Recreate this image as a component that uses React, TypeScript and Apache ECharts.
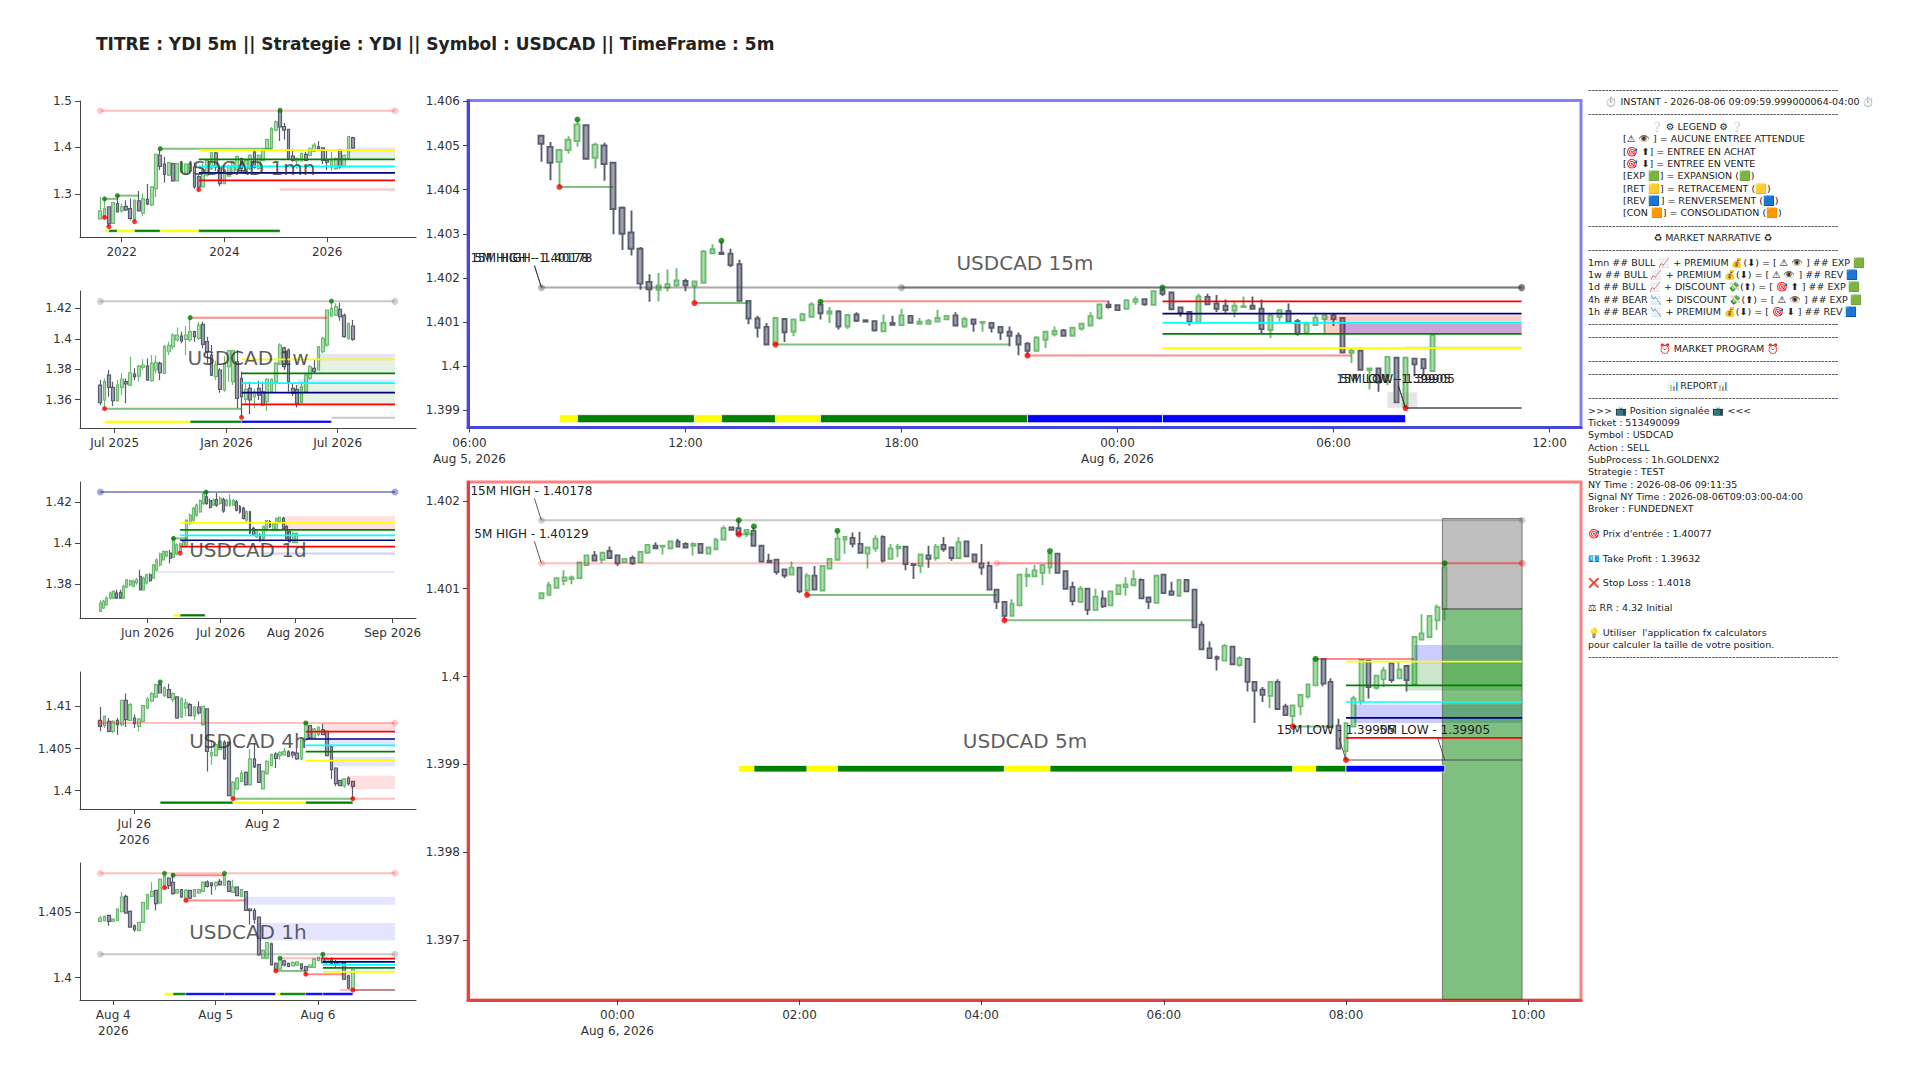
import React, { useEffect, useRef } from "react";
import * as echarts from "echarts";

const FONT = '"DejaVu Sans", "Noto Color Emoji", "Noto Sans", sans-serif';
const PIP = 100000;

const titleText = "TITRE : YDI 5m || Strategie : YDI || Symbol : USDCAD || TimeFrame : 5m";

// ---------- 15m candles [open, close, low, high], points ----------
const candles15m = [
[140522,140504,140463,140522],[140497,140461,140421,140508],[140463,140490,140406,140490],[140490,140513,140482,140521],[140510,140548,140498,140559],
[140546,140470,140470,140546],[140472,140502,140448,140506],[140500,140458,140420,140506],[140461,140356,140299,140463],[140359,140300,140263,140362],
[140303,140266,140251,140353],[140266,140187,140173,140270],[140191,140174,140146,140208],[140173,140183,140147,140211],[140178,140186,140169,140219],
[140183,140194,140180,140222],[140193,140183,140170,140198],[140182,140192,140143,140193],[140189,140260,140189,140263],[140256,140265,140256,140276],
[140257,140254,140252,140284],[140255,140229,140224,140266],[140231,140148,140146,140241],[140148,140108,140095,140149],[140108,140087,140065,140114],
[140089,140049,140047,140098],[140050,140109,140049,140110],[140107,140077,140055,140107],[140078,140106,140068,140107],[140104,140118,140104,140121],
[140112,140140,140111,140145],[140139,140120,140106,140146],[140119,140124,140098,140134],[140124,140090,140083,140127],[140090,140116,140084,140118],
[140117,140103,140100,140122],[140104,140101,140101,140104],[140102,140081,140078,140103],[140079,140098,140078,140117],[140098,140094,140093,140114],
[140093,140115,140092,140130],[140114,140098,140096,140115],[140096,140101,140096,140109],[140096,140103,140095,140107],[140101,140109,140100,140127],
[140106,140114,140106,140115],[140115,140092,140091,140122],[140090,140107,140087,140112],[140106,140096,140078,140106],[140098,140100,140078,140100],
[140098,140087,140076,140099],[140089,140076,140059,140090],[140078,140069,140045,140090],[140069,140049,140025,140076],[140051,140035,140024,140055],
[140035,140065,140035,140068],[140060,140078,140041,140079],[140072,140080,140067,140090],[140081,140069,140067,140084],[140069,140087,140067,140088],
[140085,140096,140080,140097],[140092,140113,140090,140122],[140109,140140,140105,140141],[140139,140134,140130,140148],[140138,140127,140125,140140],
[140130,140149,140128,140152],[140146,140152,140139,140158],[140152,140140,140137,140153],[140139,140170,140139,140172],[140172,140164,140159,140178],
[140167,140129,140127,140168],[140133,140121,140112,140133],[140123,140100,140092,140125],[140099,140158,140099,140164],[140157,140140,140139,140164],
[140142,140130,140123,140161],[140137,140127,140121,140151],[140126,140137,140110,140145],[140134,140136,140132,140158],[140137,140130,140129,140158],
[140130,140084,140074,140151],[140082,140115,140064,140118],[140112,140127,140101,140128],[140125,140100,140100,140142],[140102,140074,140069,140107],
[140075,140096,140075,140101],[140093,140110,140092,140119],[140107,140115,140074,140118],[140115,140107,140091,140118],[140109,140031,140030,140111],
[140030,140035,140007,140040],[140035,139992,139991,140035],[139991,139995,139947,139997],[139995,139963,139942,139997],[139977,140021,139957,140022],
[140019,139918,139917,140021],[139911,140019,139905,140021],[140017,140004,139977,140019],[140016,139995,139977,140017],[139989,140070,139989,140071],
];

// ---------- 5m candles ----------
const candles5m = [
[140089,140095,140088,140095],[140093,140104,140092,140108],[140101,140112,140100,140113],[140109,140113,140104,140121],[140111,140113,140105,140115],
[140112,140130,140112,140131],[140127,140138,140127,140139],[140138,140132,140132,140143],[140133,140141,140129,140142],[140143,140135,140134,140148],
[140138,140129,140126,140139],[140130,140134,140130,140135],[140135,140129,140127,140138],[140130,140142,140130,140143],[140141,140150,140140,140151],
[140149,140146,140146,140153],[140148,140149,140139,140149],[140146,140154,140146,140155],[140154,140148,140147,140157],[140151,140147,140146,140153],
[140149,140151,140138,140153],[140151,140141,140140,140152],[140140,140147,140140,140148],[140145,140156,140145,140158],[140156,140169,140155,140172],
[140170,140167,140167,140170],[140169,140162,140162,140178],[140164,140167,140159,140167],[140166,140149,140148,140171],[140149,140131,140130,140149],
[140132,140130,140129,140140],[140133,140119,140116,140134],[140122,140115,140112,140123],[140116,140124,140116,140131],[140124,140097,140095,140124],
[140098,140115,140093,140118],[140115,140099,140099,140126],[140098,140126,140098,140126],[140123,140134,140123,140135],[140133,140157,140133,140166],
[140156,140159,140140,140160],[140158,140151,140147,140164],[140151,140141,140140,140165],[140140,140147,140123,140148],[140146,140157,140142,140161],
[140159,140132,140130,140161],[140134,140146,140134,140151],[140146,140148,140136,140151],[140148,140128,140121,140149],[140128,140127,140111,140129],
[140126,140139,140118,140140],[140138,140134,140124,140149],[140135,140148,140132,140151],[140150,140145,140142,140159],[140147,140135,140132,140148],
[140135,140153,140134,140159],[140154,140137,140137,140154],[140139,140131,140130,140140],[140129,140124,140116,140151],[140126,140099,140098,140131],
[140099,140085,140077,140099],[140085,140069,140064,140086],[140069,140083,140069,140088],[140081,140116,140081,140116],[140114,140116,140102,140124],
[140114,140121,140113,140127],[140118,140127,140104,140128],[140124,140140,140117,140143],[140140,140118,140117,140140],[140120,140100,140099,140121],
[140102,140086,140081,140108],[140085,140100,140084,140103],[140100,140076,140070,140100],[140076,140091,140075,140100],[140089,140080,140078,140098],
[140081,140097,140080,140097],[140094,140104,140094,140105],[140102,140105,140092,140113],[140104,140111,140103,140121],[140110,140089,140088,140112],
[140090,140085,140077,140091],[140084,140115,140083,140115],[140116,140095,140094,140116],[140097,140093,140092,140108],[140092,140110,140091,140111],
[140110,140097,140097,140111],[140099,140056,140055,140099],[140059,140031,140030,140063],[140032,140021,140020,140040],[140022,140020,140007,140024],
[140018,140035,140018,140037],[140034,140014,140013,140034],[140013,140021,140011,140023],[140020,139994,139983,140021],[139994,139984,139947,139994],
[139985,139979,139971,139988],[139978,139994,139964,139995],[139994,139963,139962,139997],[139966,139956,139955,139969],[139955,139967,139943,139968],
[139966,139979,139956,139979],[139977,139991,139975,139991],[139990,140020,139990,140020],[140020,139992,139989,140021],[139994,139942,139941,139998],
[139944,139918,139917,139952],[139915,139947,139905,139947],[139943,139975,139942,139978],[139972,140019,139968,140020],[140018,139988,139975,140019],
[139987,140001,139985,140001],[139997,140007,139988,140011],[140015,139996,139993,140016],[139998,140008,139997,140017],[140012,139996,139983,140013],
[139991,140045,139990,140046],[140042,140049,140041,140071],[140045,140069,140044,140069],[140064,140079,140053,140082],[140077,140124,140064,140129],
];

// ---------- higher time frames, prices ----------
const candles1mn = [
[1.246,1.263,1.246,1.293],[1.249,1.268,1.249,1.289],[1.272,1.235,1.229,1.273],[1.236,1.281,1.235,1.282],[1.279,1.261,1.260,1.296],
[1.263,1.272,1.259,1.279],[1.273,1.265,1.263,1.286],[1.268,1.247,1.243,1.290],[1.245,1.286,1.240,1.288],[1.285,1.263,1.263,1.306],
[1.258,1.289,1.252,1.301],[1.288,1.278,1.276,1.321],[1.276,1.315,1.273,1.315],[1.311,1.385,1.293,1.385],[1.383,1.359,1.351,1.397],
[1.364,1.342,1.324,1.380],[1.340,1.367,1.338,1.369],[1.365,1.328,1.326,1.367],[1.328,1.365,1.326,1.367],[1.347,1.367,1.345,1.369],
[1.344,1.364,1.340,1.365],[1.349,1.365,1.345,1.367],[1.358,1.315,1.311,1.367],[1.337,1.315,1.309,1.340],[1.315,1.351,1.314,1.365],
[1.340,1.372,1.337,1.374],[1.354,1.388,1.352,1.390],[1.388,1.358,1.349,1.390],[1.358,1.322,1.316,1.359],[1.322,1.351,1.321,1.352],
[1.338,1.359,1.337,1.362],[1.344,1.369,1.342,1.371],[1.351,1.380,1.349,1.383],[1.376,1.354,1.347,1.378],[1.344,1.372,1.342,1.374],
[1.354,1.383,1.352,1.385],[1.390,1.357,1.354,1.397],[1.354,1.383,1.352,1.385],[1.372,1.395,1.371,1.397],[1.394,1.417,1.392,1.419],
[1.397,1.440,1.395,1.444],[1.437,1.455,1.435,1.458],[1.478,1.444,1.414,1.480],[1.445,1.437,1.417,1.453],[1.439,1.376,1.374,1.440],
[1.381,1.372,1.369,1.397],[1.371,1.376,1.354,1.378],[1.371,1.387,1.369,1.388],[1.385,1.372,1.371,1.390],[1.383,1.397,1.381,1.400],
[1.392,1.405,1.390,1.410],[1.401,1.397,1.392,1.413],[1.399,1.372,1.364,1.401],[1.372,1.368,1.351,1.392],[1.358,1.372,1.349,1.390],
[1.354,1.376,1.352,1.378],[1.394,1.358,1.354,1.397],[1.359,1.383,1.357,1.385],[1.376,1.423,1.374,1.424],[1.421,1.399,1.397,1.423],
];
const candles1w = [
[1.3696,1.3580,1.3565,1.3729],[1.3598,1.3718,1.3543,1.3740],[1.3762,1.3681,1.3620,1.3795],[1.3681,1.3593,1.3558,1.3718],[1.3593,1.3696,1.3587,1.3729],
[1.3681,1.3736,1.3630,1.3773],[1.3718,1.3703,1.3576,1.3740],[1.3696,1.3777,1.3690,1.3882],[1.3768,1.3751,1.3729,1.3806],[1.3755,1.3821,1.3718,1.3828],
[1.3812,1.3828,1.3795,1.3865],[1.3821,1.3729,1.3725,1.3871],[1.3725,1.3839,1.3718,1.3893],[1.3795,1.3843,1.3773,1.3891],[1.3839,1.3777,1.3729,1.3849],
[1.3773,1.3948,1.3768,1.3959],[1.3915,1.3957,1.3893,1.3981],[1.3948,1.4025,1.3930,1.4036],[1.3992,1.4025,1.3981,1.4075],[1.4018,1.3987,1.3970,1.4047],
[1.3996,1.4025,1.3893,1.4084],[1.3992,1.4047,1.3981,1.4139],[1.4047,1.4014,1.3981,1.4053],[1.4003,1.4090,1.3992,1.4112],[1.4095,1.3963,1.3937,1.4112],
[1.3981,1.3915,1.3839,1.4014],[1.3893,1.3762,1.3755,1.3959],[1.3751,1.3828,1.3729,1.3856],[1.3795,1.3668,1.3646,1.3806],[1.3663,1.3839,1.3652,1.3887],
[1.3817,1.3922,1.3718,1.3926],[1.3718,1.3922,1.3696,1.3926],[1.3849,1.3609,1.3543,1.3926],[1.3740,1.3620,1.3484,1.3784],[1.3602,1.3668,1.3565,1.3718],
[1.3674,1.3598,1.3506,1.3718],[1.3620,1.3652,1.3543,1.3674],[1.3674,1.3630,1.3598,1.3725],[1.3652,1.3565,1.3558,1.3718],[1.3587,1.3733,1.3528,1.3740],
[1.3652,1.3733,1.3641,1.3740],[1.3718,1.3839,1.3652,1.3849],[1.3834,1.3959,1.3828,1.3970],[1.3941,1.3817,1.3795,1.3948],[1.3926,1.3718,1.3652,1.3937],
[1.3674,1.3641,1.3624,1.3711],[1.3668,1.3576,1.3549,1.3696],[1.3580,1.3685,1.3576,1.3718],[1.3652,1.3762,1.3641,1.3773],[1.3740,1.3817,1.3729,1.3828],
[1.3806,1.3784,1.3773,1.3860],[1.3795,1.3948,1.3790,1.3952],[1.3915,1.4003,1.3904,1.4014],[1.3959,1.4189,1.3948,1.4193],[1.4149,1.4200,1.4145,1.4248],
[1.4156,1.4211,1.4149,1.4233],[1.4193,1.4145,1.4119,1.4237],[1.4154,1.4014,1.4007,1.4167],[1.4003,1.4101,1.3992,1.4106],[1.4084,1.3996,1.3987,1.4123],
];
const candles1d = [
[1.3669,1.3710,1.3669,1.3723],[1.3686,1.3718,1.3681,1.3726],[1.3702,1.3734,1.3697,1.3742],[1.3734,1.3758,1.3726,1.3766],[1.3734,1.3766,1.3729,1.3771],
[1.3758,1.3734,1.3729,1.3774],[1.3761,1.3734,1.3729,1.3774],[1.3734,1.3790,1.3729,1.3799],[1.3787,1.3823,1.3781,1.3826],[1.3798,1.3819,1.3790,1.3823],
[1.3790,1.3815,1.3787,1.3823],[1.3807,1.3823,1.3799,1.3831],[1.3839,1.3774,1.3771,1.3871],[1.3774,1.3831,1.3771,1.3839],[1.3807,1.3847,1.3799,1.3852],
[1.3847,1.3819,1.3813,1.3855],[1.3831,1.3895,1.3826,1.3900],[1.3871,1.3919,1.3863,1.3928],[1.3895,1.3949,1.3887,1.3955],[1.3919,1.3960,1.3916,1.3965],
[1.3939,1.3960,1.3932,1.3965],[1.3952,1.3928,1.3903,1.3968],[1.3932,1.4024,1.3928,1.4028],[1.3948,1.3992,1.3942,1.4000],[1.3960,1.3997,1.3955,1.4003],
[1.3984,1.4008,1.3981,1.4016],[1.3992,1.4113,1.3987,1.4116],[1.4097,1.4137,1.4089,1.4145],[1.4113,1.4170,1.4105,1.4178],[1.4137,1.4186,1.4129,1.4194],
[1.4153,1.4207,1.4148,1.4213],[1.4194,1.4242,1.4186,1.4249],[1.4226,1.4194,1.4186,1.4249],[1.4207,1.4174,1.4168,1.4218],[1.4186,1.4210,1.4181,1.4218],
[1.4213,1.4186,1.4178,1.4245],[1.4194,1.4218,1.4187,1.4229],[1.4213,1.4158,1.4148,1.4223],[1.4186,1.4207,1.4178,1.4218],[1.4186,1.4210,1.4178,1.4239],
[1.4186,1.4207,1.4181,1.4215],[1.4202,1.4161,1.4155,1.4210],[1.4178,1.4153,1.4145,1.4186],[1.4170,1.4121,1.4116,1.4178],[1.4113,1.4153,1.4105,1.4161],
[1.4153,1.4049,1.4045,1.4158],[1.4073,1.4040,1.4036,1.4081],[1.4032,1.4065,1.4026,1.4071],[1.4040,1.4013,1.4007,1.4049],[1.4024,1.4081,1.4013,1.4087],
[1.4065,1.4110,1.4058,1.4113],[1.4105,1.4081,1.4074,1.4113],[1.4065,1.4097,1.4058,1.4105],[1.4065,1.4121,1.4058,1.4126],[1.4105,1.4126,1.4097,1.4129],
[1.4121,1.4073,1.4068,1.4129],[1.4081,1.4024,1.4019,1.4089],[1.4057,1.4008,1.4003,1.4065],[1.4003,1.4048,1.4000,1.4057],[1.4003,1.4048,1.4000,1.4053],
];
const candles4h = [
[1.40834,1.40763,1.40704,1.40992],[1.40771,1.40882,1.40743,1.40890],[1.40822,1.40704,1.40692,1.40862],[1.40704,1.40822,1.40684,1.40834],[1.40834,1.40783,1.40664,1.40862],
[1.40783,1.41071,1.40763,1.41079],[1.41071,1.40842,1.40755,1.41151],[1.40834,1.41020,1.40822,1.41040],[1.40862,1.40795,1.40743,1.40902],[1.40763,1.40850,1.40704,1.40862],
[1.40822,1.41008,1.40811,1.41020],[1.40981,1.41087,1.40969,1.41111],[1.41060,1.41151,1.41048,1.41166],[1.41111,1.41257,1.41099,1.41269],[1.41257,1.41158,1.41151,1.41289],
[1.41127,1.41218,1.41111,1.41238],[1.41198,1.41103,1.41095,1.41269],[1.41079,1.41151,1.41048,1.41166],[1.41111,1.40862,1.40850,1.41119],[1.40874,1.41087,1.40862,1.41111],
[1.40981,1.41040,1.40882,1.41087],[1.41020,1.40890,1.40882,1.41040],[1.40890,1.40992,1.40842,1.41008],[1.40992,1.40921,1.40902,1.41060],[1.40783,1.41000,1.40771,1.41008],
[1.40969,1.40467,1.40229,1.40977],[1.40415,1.40455,1.40309,1.40585],[1.40415,1.40546,1.40407,1.40573],[1.40486,1.40585,1.40479,1.40605],[1.40573,1.40376,1.40368,1.40597],
[1.40573,1.39941,1.39933,1.40581],[1.39913,1.40099,1.39905,1.40111],[1.40020,1.40150,1.40004,1.40162],[1.40111,1.40210,1.40099,1.40241],[1.40218,1.40071,1.40060,1.40229],
[1.40071,1.40376,1.40060,1.40494],[1.40376,1.40281,1.40269,1.40566],[1.40309,1.40099,1.40091,1.40320],[1.40020,1.40229,1.40012,1.40241],[1.40202,1.40348,1.40190,1.40360],
[1.40297,1.40427,1.40289,1.40439],[1.40435,1.40384,1.40269,1.40455],[1.40415,1.40455,1.40368,1.40467],[1.40427,1.40467,1.40415,1.40506],[1.40459,1.40407,1.40400,1.40479],
[1.40455,1.40423,1.40388,1.40471],[1.40447,1.40376,1.40368,1.40506],[1.40376,1.40613,1.40360,1.40621],[1.40605,1.40803,1.40585,1.40803],[1.40771,1.40625,1.40613,1.40783],
[1.40625,1.40732,1.40613,1.40743],[1.40664,1.40755,1.40645,1.40763],[1.40724,1.40664,1.40657,1.40795],[1.40704,1.40415,1.40407,1.40712],[1.40526,1.40249,1.40139,1.40546],
[1.40269,1.40083,1.40052,1.40277],[1.40123,1.40060,1.40052,1.40131],[1.40060,1.40139,1.40032,1.40150],[1.40150,1.40083,1.40060,1.40170],[1.40111,1.40052,1.39905,1.40119],
];
const candles1h = [
[1.40431,1.40456,1.40423,1.40474],[1.40436,1.40469,1.40428,1.40477],[1.40477,1.40431,1.40397,1.40477],[1.40431,1.40449,1.40428,1.40456],[1.40438,1.40526,1.40436,1.40531],
[1.40505,1.40618,1.40500,1.40654],[1.40623,1.40495,1.40490,1.40636],[1.40508,1.40387,1.40382,1.40515],[1.40397,1.40367,1.40351,1.40408],[1.40361,1.40423,1.40356,1.40428],
[1.40423,1.40577,1.40418,1.40582],[1.40526,1.40636,1.40520,1.40644],[1.40623,1.40662,1.40618,1.40731],[1.40669,1.40567,1.40515,1.40674],[1.40572,1.40756,1.40567,1.40761],
[1.40705,1.40777,1.40687,1.40800],[1.40764,1.40705,1.40679,1.40769],[1.40731,1.40644,1.40636,1.40797],[1.40649,1.40674,1.40641,1.40679],[1.40674,1.40618,1.40610,1.40679],
[1.40610,1.40669,1.40592,1.40679],[1.40669,1.40610,1.40603,1.40674],[1.40623,1.40674,1.40618,1.40682],[1.40649,1.40674,1.40641,1.40682],[1.40662,1.40733,1.40656,1.40738],
[1.40733,1.40700,1.40692,1.40746],[1.40726,1.40705,1.40636,1.40731],[1.40705,1.40733,1.40669,1.40738],[1.40738,1.40713,1.40705,1.40756],[1.40710,1.40782,1.40705,1.40797],
[1.40738,1.40662,1.40656,1.40746],[1.40654,1.40695,1.40649,1.40751],[1.40695,1.40628,1.40623,1.40700],[1.40623,1.40674,1.40618,1.40679],[1.40659,1.40515,1.40513,1.40662],
[1.40526,1.40513,1.40405,1.40531],[1.40515,1.40449,1.40413,1.40531],[1.40464,1.40174,1.40167,1.40469],[1.40149,1.40208,1.40141,1.40218],[1.40149,1.40269,1.40141,1.40277],
[1.40259,1.40097,1.40092,1.40269],[1.40110,1.40064,1.40051,1.40115],[1.40064,1.40141,1.40059,1.40149],[1.40128,1.40097,1.40085,1.40136],[1.40110,1.40085,1.40079,1.40115],
[1.40090,1.40115,1.40085,1.40126],[1.40095,1.40120,1.40090,1.40126],[1.40105,1.40069,1.40059,1.40110],[1.40085,1.40054,1.40026,1.40090],[1.40079,1.40095,1.40072,1.40100],
[1.40079,1.40141,1.40072,1.40149],[1.40131,1.40156,1.40123,1.40161],[1.40149,1.40115,1.40110,1.40179],[1.40115,1.40141,1.40097,1.40156],[1.40136,1.40110,1.40105,1.40156],
[1.40123,1.40097,1.40069,1.40136],[1.40097,1.40118,1.40085,1.40123],[1.40115,1.39987,1.39982,1.40123],[1.40013,1.39918,1.39910,1.40021],[1.39905,1.40064,1.39905,1.40069],
];

// ---------- levels: [from bar, to bar, price, kind] ----------
const levels15m = [
[2,8,1.40406,"mint"],[17,23,1.40143,"mint"],[26,52,1.40049,"mint"],[31,63,1.40147,"salmon"],[54,90,1.40024,"salmon"],
[0,108.9,1.40178,"grey"],[40,108.9,1.40178,"grey"],[96,108.9,1.39905,"grey"],[96,108.9,1.39905,"grey"],
[69,108.9,1.40147,"red"],[69,108.9,1.40119,"navy"],[69,108.9,1.40098,"cyan"],[69,108.9,1.40073,"green"],[69,108.9,1.40041,"yellow"],
];
const levels5m = [
[0,129.2,1.40178,"silver"],[0,129.2,1.40129,"pink"],[60,129.2,1.40129,"pink"],
[26,28,1.40162,"mint"],[35,60,1.40093,"mint"],[61,86,1.40064,"mint"],[99,104,1.39943,"mint"],[102,115,1.4002,"salmon"],
[106,129.2,1.40017,"yellow"],[106,129.2,1.3999,"green"],[106,129.2,1.39971,"cyan"],[106,129.2,1.39953,"navy"],[106,129.2,1.3993,"red"],
[106,129.2,1.39905,"grey"],
];
const levels1mn = [
[0,68.85,1.479,"pink"],[1,4,1.289,"mint"],[4,9,1.296,"mint"],[14,40,1.397,"mint"],[42,68.85,1.309,"pink"],
[23,68.85,1.394,"yellow"],[23,68.85,1.374,"green"],[23,68.85,1.359,"cyan"],[23,68.85,1.345,"navy"],[23,68.85,1.329,"red"],
];
const levels1w = [
[0,68.85,1.4246,"silver"],[21,53,1.4139,"salmon"],[1,33,1.3541,"mint"],[54,68.85,1.3482,"silver"],
[33,68.85,1.3865,"yellow"],[33,68.85,1.3773,"green"],[33,68.85,1.3709,"cyan"],[33,68.85,1.3646,"navy"],[33,68.85,1.3569,"red"],
];
const levels1d = [
[0,88.6,1.4249,"lilac"],[22,26,1.4024,"mint"],[48.5,88.6,1.395,"haze"],[16.4,88.6,1.3861,"hazeLight"],
[24,88.6,1.41,"yellow"],[24,88.6,1.4065,"green"],[24,88.6,1.4039,"cyan"],[24,88.6,1.4015,"navy"],[24,88.6,1.3984,"red"],
];
const levels4h = [
[0,68.85,1.40803,"pink"],[31,59,1.39905,"mint"],[59,68.85,1.39905,"pink"],
[48,68.85,1.407,"red"],[48,68.85,1.40613,"navy"],[48,68.85,1.40538,"cyan"],[48,68.85,1.40463,"green"],[48,68.85,1.40356,"yellow"],
];
const levels1h = [
[0,68.85,1.408,"pink"],[0,68.85,1.40179,"silver"],[17,29,1.40785,"salmon"],[20,34,1.40592,"salmon"],[15,16,1.4069,"mint"],
[42,52,1.40149,"pink"],[41,48,1.40051,"mint"],[48,57,1.40026,"salmon"],[56,59,1.39905,"pink"],[59,68.85,1.39905,"brown"],
[52,68.85,1.40146,"red"],[52,68.85,1.4012,"navy"],[52,68.85,1.40097,"cyan"],[52,68.85,1.40074,"green"],[52,68.85,1.40044,"yellow"],
];

// ---------- zones: [from bar, to bar, upper price, lower price, kind] ----------
const zones15m = [
[87,108.9,1.40115,1.40075,"rose"],[89,108.9,1.40096,1.40075,"violet"],[96,108.9,1.40045,1.40039,"fog"],[94,97.3,1.39941,1.39906,"fog"],
];
const zones5m = [
[115,129.2,1.40036,1.40014,"violet"],[107,129.2,1.39968,1.39947,"violet"],[114,129.2,1.40014,1.39984,"moss"],
[118.7,129.2,1.4018,1.40077,"stopBox"],[118.7,129.2,1.40077,1.39632,"targetBox"],
];
const zones1mn = [[58,68.85,1.3996,1.388,"lavender"],[58,68.85,1.388,1.374,"sage"]];
const zones1w = [
[51.3,68.85,1.39,1.3854,"lavender"],[51.3,68.85,1.3854,1.3773,"sage"],[46,68.85,1.3733,1.3707,"lavender"],[46,68.85,1.3707,1.3554,"sage"],
];
const zones1d = [[55.5,88.6,1.4132,1.4068,"blush"]];
const zones4h = [
[52,68.85,1.40803,1.407,"blush"],[53,68.85,1.40605,1.40546,"lavender"],[54.4,68.85,1.404,1.40289,"lavender"],[58.3,68.85,1.40178,1.4002,"blush"],
];
const zones1h = [[33.8,68.85,1.4062,1.40559,"lavender"],[36.5,68.85,1.40418,1.40285,"lavender"]];

// ---------- phases: [from bar, to bar, phase] ----------
const phases15m = [[2,4,"RET"],[4,17,"EXP"],[17,20,"RET"],[20,26,"EXP"],[26,31,"RET"],[31,54,"EXP"],[54,69,"REV"],[69,96,"REV"]];
const phases5m = [[26,28,"RET"],[28,35,"EXP"],[35,39,"RET"],[39,61,"EXP"],[61,67,"RET"],[67,99,"EXP"],[99,102,"RET"],[102,106,"EXP"],[106,119,"REV"]];
const phases1mn = [[1,2,"RET"],[2,4,"EXP"],[4,8,"RET"],[8,14,"EXP"],[14,23,"RET"],[23,42,"EXP"]];
const phases1w = [[1,21,"RET"],[21,33,"EXP"],[33,54,"REV"]];
const phases1d = [[22,24,"RET"],[24,31.5,"EXP"]];
const phases4h = [[14,31,"EXP"],[31,48,"RET"],[48,59,"EXP"]];
const phases1h = [[15,17,"RET"],[17,20,"EXP"],[20,29,"REV"],[29,41,"REV"],[41,42,"RET"],[42,48,"EXP"],[48,52,"REV"],[52,59,"REV"]];

// ---------- swing points [bar, price] ----------
const highs15m = [[4,1.40559],[20,1.40284],[31,1.40146],[69,1.40178]];
const lows15m = [[2,1.40406],[17,1.40143],[26,1.40049],[54,1.40024],[96,1.39905]];
const highs5m = [[26,1.40178],[28,1.40171],[39,1.40166],[67,1.40143],[102,1.4002],[119,1.40129]];
const lows5m = [[26,1.40162],[35,1.40093],[61,1.40064],[99,1.39943],[106,1.39905]];
const highs1mn = [[1,1.289],[4,1.296],[14,1.397],[42,1.48]];
const lows1mn = [[1,1.249],[2,1.229],[8,1.24],[23,1.309]];
const highs1w = [[21,1.4139],[54,1.4248]];
const lows1w = [[1,1.3541],[33,1.3484]];
const highs1d = [[22,1.4024],[31.8,1.4249]];
const lows1d = [[24,1.3952]];
const highs4h = [[14,1.41289],[48,1.40803]];
const lows4h = [[31,1.39905],[59,1.39905]];
const highs1h = [[15,1.408],[17,1.40785],[29,1.408],[42,1.40149],[52,1.40179]];
const lows1h = [[15,1.4069],[20,1.40592],[41,1.40051],[48,1.40026],[59,1.39905]];

// ---------- pale end markers [bar, price, kind] ----------
const marks15m = [[0,1.40178,"grey"],[40,1.40178,"grey"],[108.9,1.40178,"greyDark"]];
const marks5m = [[0,1.40178,"silver"],[129.2,1.40178,"silver"],[0,1.40129,"pink"],[60,1.40129,"pink"],[129.2,1.40129,"salmon"]];
const marks1mn = [[0,1.479,"pink"],[68.85,1.479,"pink"]];
const marks1w = [[0,1.4246,"silver"],[68.85,1.4246,"silver"]];
const marks1d = [[0,1.4249,"lilac"],[88.6,1.4249,"lilac"]];
const marks4h = [[0,1.40803,"pink"],[68.85,1.40803,"pink"]];
const marks1h = [[0,1.408,"pink"],[68.85,1.408,"pink"],[0,1.40179,"silver"],[68.85,1.40179,"silver"]];

// ---------- call-outs [bar, price, text] ----------
const notes15m = [
[0,1.40178,"15M HIGH - 1.40178"],[0,1.40178,"5M HIGH - 1.40178"],
[96,1.39905,"15M LOW - 1.39905"],[96,1.39905,"5M LOW - 1.39905"],
];
const notes5m = [
[0,1.40178,"15M HIGH - 1.40178"],[0,1.40129,"5M HIGH - 1.40129"],
[106,1.39905,"15M LOW - 1.39905"],[119,1.39905,"5M LOW - 1.39905"],
];

// ---------- axis ticks ----------
const yTicks15m = [1.399,1.4,1.401,1.402,1.403,1.404,1.405,1.406];
const yTicks5m = [1.397,1.398,1.399,1.4,1.401,1.402];
const yTicks1mn = [1.3,1.4,1.5];
const yTicks1w = [1.36,1.38,1.4,1.42];
const yTicks1d = [1.38,1.4,1.42];
const yTicks4h = [1.4,1.405,1.41];
const yTicks1h = [1.4,1.405];
const xPos15m = [-8,16,40,64,88,112];
const xLab15m = ["06:00\nAug 5, 2026","12:00","18:00","00:00\nAug 6, 2026","06:00","12:00"];
const xPos5m = [10,34,58,82,106,130];
const xLab5m = ["00:00\nAug 6, 2026","02:00","04:00","06:00","08:00","10:00"];
const xPos1mn = [5,29,53];
const xLab1mn = ["2022","2024","2026"];
const xPos1w = [3.35,29.5,55.45];
const xLab1w = ["Jul 2025","Jan 2026","Jul 2026"];
const xPos1d = [14.2,36.2,58.7,87.9];
const xLab1d = ["Jun 2026","Jul 2026","Aug 2026","Sep 2026"];
const xPos4h = [7.94,37.93];
const xLab4h = ["Jul 26\n2026","Aug 2"];
const xPos1h = [3.04,26.95,50.86];
const xLab1h = ["Aug 4\n2026","Aug 5","Aug 6"];

// ---------- side report ----------
const DASH = "-".repeat(73);
const reportLines = [
DASH,"⏱ INSTANT - 2026-08-06 09:09:59.999000064-04:00 ⏱",DASH,"❔ ⚙ LEGEND ⚙ ❔",
"[⚠ 👁 ] = AUCUNE ENTREE ATTENDUE","[🎯 ⬆] = ENTREE EN ACHAT","[🎯 ⬇] = ENTREE EN VENTE",
"[EXP 🟩] = EXPANSION (🟩)","[RET 🟨] = RETRACEMENT (🟨)","[REV 🟦] = RENVERSEMENT (🟦)","[CON 🟧] = CONSOLIDATION (🟧)",
DASH,"♻ MARKET NARRATIVE ♻",DASH,
"1mn ## BULL 📈 + PREMIUM 💰(⬇) = [ ⚠ 👁 ] ## EXP 🟩","1w ## BULL 📈 + PREMIUM 💰(⬇) = [ ⚠ 👁 ] ## REV 🟦",
"1d ## BULL 📈 + DISCOUNT 💸(⬆) = [ 🎯 ⬆ ] ## EXP 🟩","4h ## BEAR 📉 + DISCOUNT 💸(⬆) = [ ⚠ 👁 ] ## EXP 🟩",
"1h ## BEAR 📉 + PREMIUM 💰(⬇) = [ 🎯 ⬇ ] ## REV 🟦",
DASH,DASH,"⏰ MARKET PROGRAM ⏰",DASH,DASH,"📊REPORT📊",DASH,
">>> 📺 Position signalée 📺 <<<","Ticket : 513490099","Symbol : USDCAD","Action : SELL","SubProcess : 1h.GOLDENX2","Strategie : TEST",
"NY Time : 2026-08-06 09:11:35","Signal NY Time : 2026-08-06T09:03:00-04:00","Broker : FUNDEDNEXT","",
"🎯 Prix d'entrée : 1.40077","","💶 Take Profit : 1.39632","","❌ Stop Loss : 1.4018","","⚖ RR : 4.32 Initial","",
"💡 Utiliser  l'application fx calculators","pour calculer la taille de votre position.",DASH,
];
const reportCentered: Record<number, number> = { 1: 1740, 3: 1697, 12: 1713, 21: 1719, 24: 1699 };
const reportIndented = [4,5,6,7,8,9,10];

// ---------- styles ----------
const levelStyle: Record<string, any> = {
  mint: { c: "rgba(0,128,0,.5)", w: 2 }, salmon: { c: "rgba(255,0,0,.45)", w: 2 }, pink: { c: "rgba(255,0,0,.25)", w: 2 },
  grey: { c: "rgba(64,64,64,.45)", w: 2 }, greyDark: { c: "rgba(64,64,64,.85)", w: 2 }, silver: { c: "rgba(100,100,100,.35)", w: 2 },
  lilac: { c: "rgba(0,0,139,.42)", w: 2 }, brown: { c: "rgba(139,40,40,.55)", w: 2 },
  haze: { c: "rgba(0,0,255,.2)", w: 2 }, hazeLight: { c: "rgba(0,0,255,.1)", w: 2 },
  yellow: { c: "#ffff00", w: 1.7 }, green: { c: "#008000", w: 1.7 }, cyan: { c: "#00ffff", w: 1.7 }, navy: { c: "#000080", w: 1.7 }, red: { c: "#ff0000", w: 1.7 },
};
const zoneStyle: Record<string, any> = {
  rose: { fill: "rgba(255,0,0,.2)" }, violet: { fill: "rgba(0,0,255,.2)" }, fog: { fill: "rgba(128,128,128,.2)" }, moss: { fill: "rgba(0,128,0,.2)" },
  lavender: { fill: "rgba(0,0,255,.1)" }, sage: { fill: "rgba(0,128,0,.1)" }, blush: { fill: "rgba(255,0,0,.12)" },
  stopBox: { fill: "rgba(128,128,128,.5)", stroke: "rgba(64,64,64,.6)", lineWidth: 1 },
  targetBox: { fill: "rgba(0,128,0,.5)", stroke: "rgba(64,64,64,.6)", lineWidth: 1 },
};
const phaseColor: Record<string, string> = { RET: "#ffff00", EXP: "#008000", REV: "#0000ff" };

const panels: any[] = [
  { name: "USDCAD 1mn", labelAt: [247, 168], box: [80, 101, 416, 237], xr: [-4.74, 73.76], yr: [1.2068, 1.5], candles: candles1mn, scale: 1, yTicks: yTicks1mn, xPos: xPos1mn, xLab: xLab1mn, levels: levels1mn, zones: zones1mn, phases: phases1mn, phaseY: 1.22, highs: highs1mn, lows: lows1mn, marks: marks1mn, bw: 3.2, bd: 1.2, phaseH: 2.6 },
  { name: "USDCAD 1w", labelAt: [248, 358], box: [80, 291, 416, 428], xr: [-4.74, 73.76], yr: [1.3414, 1.4314], candles: candles1w, scale: 1, yTicks: yTicks1w, xPos: xPos1w, xLab: xLab1w, levels: levels1w, zones: zones1w, phases: phases1w, phaseY: 1.3455, highs: highs1w, lows: lows1w, marks: marks1w, bw: 3.2, bd: 1.2, phaseH: 2.6 },
  { name: "USDCAD 1d", labelAt: [248, 550], box: [80, 482, 416, 618], xr: [-6.1, 94.9], yr: [1.3637, 1.4298], candles: candles1d, scale: 1, yTicks: yTicks1d, xPos: xPos1d, xLab: xLab1d, levels: levels1d, zones: zones1d, phases: phases1d, phaseY: 1.365, highs: highs1d, lows: lows1d, marks: marks1d, bw: 2.4, bd: 1.2, phaseH: 2.6 },
  { name: "USDCAD 4h", labelAt: [248, 741], box: [80, 672, 416, 809], xr: [-4.74, 73.76], yr: [1.39783, 1.41407], candles: candles4h, scale: 1, yTicks: yTicks4h, xPos: xPos4h, xLab: xLab4h, levels: levels4h, zones: zones4h, phases: phases4h, phaseY: 1.39858, highs: highs4h, lows: lows4h, marks: marks4h, bw: 3.2, bd: 1.2, phaseH: 2.6 },
  { name: "USDCAD 1h", labelAt: [248, 932], box: [80, 863, 416, 1000], xr: [-4.74, 73.76], yr: [1.39828, 1.40879], candles: candles1h, scale: 1, yTicks: yTicks1h, xPos: xPos1h, xLab: xLab1h, levels: levels1h, zones: zones1h, phases: phases1h, phaseY: 1.39874, highs: highs1h, lows: lows1h, marks: marks1h, bw: 3.2, bd: 1.2, phaseH: 2.6 },
  { name: "USDCAD 15m", labelAt: [1025, 263], box: [468, 100.5, 1581, 427.5], xr: [-8.16, 115.5], yr: [1.39861, 1.40602], candles: candles15m, scale: PIP, yTicks: yTicks15m, xPos: xPos15m, xLab: xLab15m, levels: levels15m, zones: zones15m, phases: phases15m, phaseY: 1.39881, highs: highs15m, lows: lows15m, marks: marks15m, notes: notes15m, bw: 5.4, bd: 1.9, phaseH: 8, main: "#8080ff", mainDark: "#4848d8" },
  { name: "USDCAD 5m", labelAt: [1025, 741], box: [468, 482, 1581, 1000], xr: [-9.67, 136.96], yr: [1.396315, 1.402216], candles: candles5m, scale: PIP, yTicks: yTicks5m, xPos: xPos5m, xLab: xLab5m, levels: levels5m, zones: zones5m, phases: phases5m, phaseY: 1.39895, highs: highs5m, lows: lows5m, marks: marks5m, notes: notes5m, bw: 4.4, bd: 1.8, phaseH: 6.5, main: "#ff8080", mainDark: "#dd4444" },
];

function buildOption() {
  const grid: any[] = [], xAxis: any[] = [], yAxis: any[] = [], series: any[] = [], graphic: any[] = [];
  panels.forEach((p, i) => {
    const [l, t, r, b] = p.box;
    const axisColor = p.main ? p.mainDark : "#444";
    const axisW = p.main ? 3 : 1;
    grid.push({ left: l, top: t, width: r - l, height: b - t, show: !!p.main, borderColor: p.main || "#fff", borderWidth: p.main ? 3 : 0, backgroundColor: "transparent" });
    xAxis.push({
      type: "value", gridIndex: i, min: p.xr[0], max: p.xr[1], position: "bottom", splitLine: { show: false },
      axisLine: { show: true, onZero: false, lineStyle: { color: axisColor, width: axisW } },
      axisTick: { show: true, length: 5, customValues: p.xPos, lineStyle: { color: "#444", width: 1 } },
      axisLabel: { customValues: p.xPos, color: "#333", fontFamily: FONT, fontSize: 12, margin: 7, lineHeight: 16, hideOverlap: false,
        formatter: (v: number) => { const k = p.xPos.indexOf(v); return k >= 0 ? p.xLab[k] : ""; } },
    });
    yAxis.push({
      type: "value", gridIndex: i, min: p.yr[0], max: p.yr[1], position: "left", splitLine: { show: false },
      axisLine: { show: true, onZero: false, lineStyle: { color: axisColor, width: axisW } },
      axisTick: { show: true, length: 5, customValues: p.yTicks, lineStyle: { color: "#444", width: 1 } },
      axisLabel: { customValues: p.yTicks, color: "#333", fontFamily: FONT, fontSize: 12, margin: 8, hideOverlap: false, formatter: (v: number) => String(v) },
    });
    const common = { xAxisIndex: i, yAxisIndex: i, silent: true, animation: false };
    const k = p.scale === 1 ? 1 : p.scale;
    series.push({
      ...common, type: "candlestick", z: 2, barWidth: p.bw, clip: false,
      data: p.candles.map((c: number[], j: number) => [j, c[0] / k, c[1] / k, c[2] / k, c[3] / k]),
      encode: { x: 0, y: [1, 2, 3, 4] },
      itemStyle: { color: "rgba(165,214,167,.85)", color0: "rgba(150,152,165,.9)", borderColor: "#6bbb70", borderColor0: "#5a5d6e", borderColorDoji: "#5a5d6e", borderWidth: p.bd },
    });
    const zr = p.zones;
    series.push({
      ...common, type: "custom", z: 3, clip: false, data: zr.map((r: any[]) => r.slice(0, 4)), encode: { x: [0, 1], y: [2, 3] },
      renderItem: (params: any, api: any) => {
        const r = zr[params.dataIndex];
        const a = api.coord([r[0], r[2]]), c = api.coord([r[1], r[3]]);
        return { type: "rect", silent: true, shape: { x: a[0], y: a[1], width: c[0] - a[0], height: c[1] - a[1] }, style: { lineWidth: 0, ...zoneStyle[r[4]] } };
      },
    });
    p.levels.forEach((v: any[]) => {
      const s = levelStyle[v[3]];
      series.push({ ...common, type: "line", z: 4, clip: false, symbol: "none", data: [[v[0], v[2]], [v[1], v[2]]], lineStyle: { color: s.c, width: s.w } });
    });
    const ph = p.phases;
    series.push({
      ...common, type: "custom", z: 5, clip: false, data: ph.map((r: any[]) => [r[0], r[1], p.phaseY]), encode: { x: [0, 1], y: 2 },
      renderItem: (params: any, api: any) => {
        const r = ph[params.dataIndex];
        const a = api.coord([r[0], p.phaseY]), c = api.coord([r[1], p.phaseY]);
        return { type: "rect", silent: true, shape: { x: a[0], y: a[1] - p.phaseH / 2, width: c[0] - a[0], height: p.phaseH }, style: { fill: phaseColor[r[2]], stroke: "rgba(255,255,255,.9)", lineWidth: p.main ? 0.8 : 0.4 } };
      },
    });
    const dot = p.main ? 6 : 5;
    series.push({ ...common, type: "scatter", z: 6, clip: false, symbolSize: 7, data: p.marks.map((m: any[]) => ({ value: [m[0], m[1]], itemStyle: { color: levelStyle[m[2]].c } })) });
    series.push({ ...common, type: "scatter", z: 7, clip: false, symbolSize: dot, itemStyle: { color: "#008000" }, data: p.highs });
    series.push({ ...common, type: "scatter", z: 7, clip: false, symbolSize: dot, itemStyle: { color: "#ff0000" }, data: p.lows });
    if (p.notes) {
      const nr = p.notes;
      series.push({
        ...common, type: "custom", z: 8, clip: false, data: nr.map((n: any[]) => [n[0], n[1]]), encode: { x: 0, y: 1 },
        renderItem: (params: any, api: any) => {
          const n = nr[params.dataIndex];
          const q = api.coord([n[0], n[1]]);
          return { type: "group", silent: true, children: [
            { type: "line", shape: { x1: q[0], y1: q[1], x2: q[0] - 7, y2: q[1] - 22 }, style: { stroke: "#333", lineWidth: 0.8 } },
            { type: "text", style: { text: n[2], x: q[0] - 10, y: q[1] - 29.5, align: "center", verticalAlign: "middle", fontSize: 12, fontFamily: FONT, fill: "#222" } },
          ] };
        },
      });
    }
    graphic.push({ type: "text", z: 20, silent: true, style: { text: p.name, x: p.labelAt[0], y: p.labelAt[1], align: "center", verticalAlign: "middle", fontSize: 20, fontFamily: FONT, fill: "rgba(50,50,50,.8)" } });
  });
  graphic.push({ type: "text", silent: true, style: { text: titleText, x: 96, y: 44, align: "left", verticalAlign: "middle", fontSize: 17, fontWeight: "bold", fontFamily: FONT, fill: "#222" } });
  reportLines.forEach((text, n) => {
    if (!text) return;
    const centered = reportCentered[n];
    graphic.push({ type: "text", silent: true, style: {
      text, x: centered ?? (reportIndented.includes(n) ? 1623 : 1588), y: 89.3 + n * 12.34,
      align: centered ? "center" : "left", verticalAlign: "middle", fontSize: 9.5, fontFamily: FONT, fill: "#222" } });
  });
  return { animation: false, backgroundColor: "#fff", grid, xAxis, yAxis, series, graphic };
}

export default function App() {
  const ref = useRef<HTMLDivElement>(null);
  useEffect(() => {
    const chart = echarts.init(ref.current!, undefined, { renderer: "svg" });
    chart.setOption(buildOption() as any);
    return () => chart.dispose();
  }, []);
  return <div ref={ref} style={{ position: "absolute", left: 0, top: 0, width: 1920, height: 1080 }} />;
}
